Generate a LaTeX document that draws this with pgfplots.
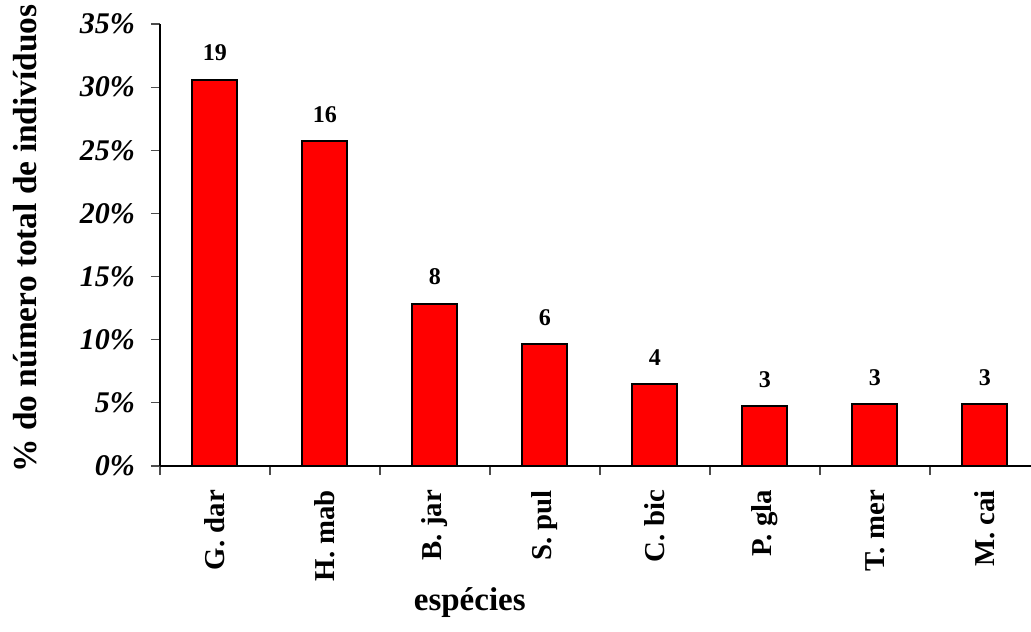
\documentclass[border=0pt]{standalone}
\usepackage{pgfplots}
\pgfplotsset{compat=1.18}
\usepackage{fontspec}
\setmainfont{Liberation Serif}
\begin{document}
\begin{tikzpicture}
\begin{axis}[
  at={(0,0)}, anchor=south west,
  scale only axis,
  width=440pt, height=221pt,
  xmin=-0.5, xmax=7.5,
  ymin=0, ymax=35,
  axis x line*=bottom, axis y line*=left,
  axis line style={black, line width=0.6pt},
  tick align=outside,
  tick style={black!70, line width=0.6pt},
  ytick={0,5,...,35},
  major tick length=4.5pt,
  yticklabel={\pgfmathprintnumber[assume math mode=true]{\tick}\%},
  yticklabel style={font=\fontsize{15}{17}\selectfont\bfseries\itshape, xshift=-4.5pt},
  xtick={-0.5,0.5,...,7.5},
  x tick label as interval,
  xticklabels={G. dar,H. mab,B. jar,S. pul,C. bic,P. gla,T. mer,M. cai},
  xticklabel style={yshift=-4pt, rotate=90, anchor=east, font=\fontsize{14.4}{16}\selectfont\bfseries},
  ylabel={\% do número total de indivíduos},
  ylabel style={at={(axis description cs:-0.1534,0.515)}, anchor=center, font=\fontsize{16.7}{18}\selectfont\bfseries},
  xlabel={espécies},
  xlabel style={at={(axis description cs:0.352,-0.31)}, anchor=center, font=\fontsize{16.5}{18}\selectfont\bfseries},
  ybar, bar width=22.5pt,
  point meta=explicit symbolic,
  nodes near coords,
  nodes near coords style={anchor=south, yshift=5.5pt, font=\fontsize{12}{14}\selectfont\bfseries, text=black},
  clip=false,
]
\addplot[fill=red, draw=black, line width=1pt] coordinates {
  (0,30.6) [19]
  (1,25.7) [16]
  (2,12.85) [8]
  (3,9.65) [6]
  (4,6.5) [4]
  (5,4.75) [3]
  (6,4.9) [3]
  (7,4.9) [3]
};
\end{axis}
\pgfresetboundingbox
\useasboundingbox (-80pt,-82.5pt) rectangle (435.5pt,233pt);
\end{tikzpicture}
\end{document}
